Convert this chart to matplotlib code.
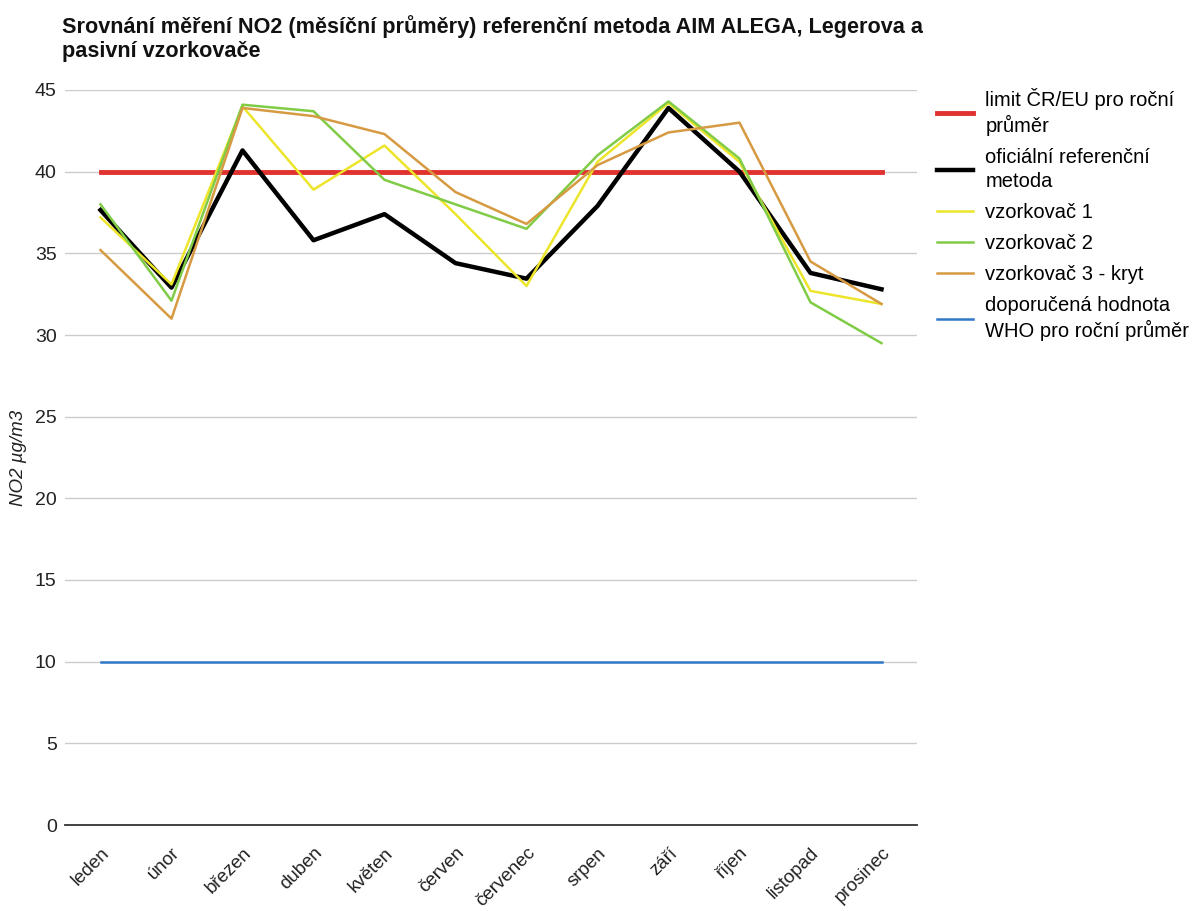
import matplotlib.pyplot as plt
import numpy as np

plt.rcParams['font.family'] = ['Liberation Sans', 'DejaVu Sans']

mesice = ['leden', 'únor', 'březen', 'duben', 'květen', 'červen',
          'červenec', 'srpen', 'září', 'říjen', 'listopad', 'prosinec']

limit_eu = 40
who = 10
referencni = [37.65, 32.9, 41.3, 35.8, 37.4, 34.4, 33.45, 37.9, 43.9, 40.0, 33.8, 32.8]
vzorkovac1 = [37.2, 33.1, 44.0, 38.9, 41.6, 37.4, 33.0, 40.6, 44.2, 40.6, 32.7, 31.9]
vzorkovac2 = [38.0, 32.1, 44.1, 43.7, 39.5, 38.0, 36.5, 41.0, 44.3, 40.8, 32.0, 29.5]
vzorkovac3 = [35.2, 31.0, 43.9, 43.4, 42.3, 38.75, 36.8, 40.4, 42.4, 43.0, 34.5, 31.9]

x = np.arange(len(mesice))

fig = plt.figure(figsize=(12.03, 9.11), dpi=100)
ax = fig.add_axes([65/1203, 1 - 825/911, 852/1203, 735/911])

ax.plot(x, [limit_eu]*len(x), color='#e0322f', lw=3.5,
        label='limit ČR/EU pro roční\nprůměr', zorder=3)
ax.plot(x, referencni, color='black', lw=3.2,
        label='oficiální referenční\nmetoda', zorder=4)
ax.plot(x, vzorkovac1, color='#ede52a', lw=1.8, label='vzorkovač 1', zorder=5)
ax.plot(x, vzorkovac2, color='#80cc46', lw=1.8, label='vzorkovač 2', zorder=6)
ax.plot(x, vzorkovac3, color='#d69a42', lw=1.8, label='vzorkovač 3 - kryt', zorder=7)
ax.plot(x, [who]*len(x), color='#2f78c8', lw=1.8,
        label='doporučená hodnota\nWHO pro roční průměr', zorder=3)

ax.set_xlim(-0.5, 11.5)
ax.set_ylim(0, 45)
ax.set_yticks(range(0, 46, 5))
ax.yaxis.grid(True, color='#cccccc', lw=1)
ax.set_axisbelow(True)
for s in ['left', 'right', 'top']:
    ax.spines[s].set_visible(False)
ax.spines['bottom'].set_color('#333333')
ax.spines['bottom'].set_linewidth(1.3)
ax.tick_params(axis='y', length=0, labelsize=14, colors='#222222', pad=6)
ax.set_xticks(x)
ax.set_xticklabels(mesice, rotation=45, ha='right', rotation_mode='anchor',
                   fontsize=13.5, color='#222222')
ax.tick_params(axis='x', length=0, pad=14)
ax.set_ylabel('NO2 µg/m3', fontstyle='italic', fontsize=13.5, color='#222222')
ax.yaxis.set_label_coords(-38/852, 0.5)

fig.text(62/1203, 1 - 27/911,
         'Srovnání měření NO2 (měsíční průměry) referenční metoda AIM ALEGA, Legerova a',
         fontsize=15.6, fontweight='bold', va='center', color='#111111')
fig.text(62/1203, 1 - 52/911, 'pasivní vzorkovače',
         fontsize=15.6, fontweight='bold', va='center', color='#111111')

leg = ax.legend(loc='upper left', bbox_to_anchor=((929 - 65)/852, 1.0 + 10/735),
                frameon=False, fontsize=14.5, handlelength=1.8, handletextpad=0.6,
                labelspacing=0.6, borderaxespad=0)
for t in leg.get_texts():
    t.set_linespacing(1.3)

fig.savefig('out.png', dpi=100)
